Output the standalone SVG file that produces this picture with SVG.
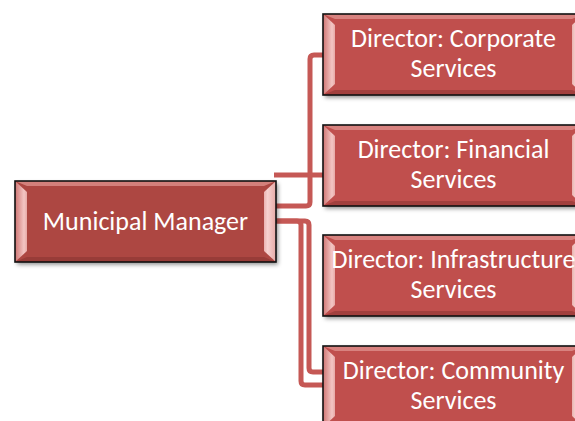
<svg xmlns="http://www.w3.org/2000/svg" xmlns:xlink="http://www.w3.org/1999/xlink" width="575" height="421" viewBox="0 0 575 421">
<style>
  .conn { fill: none; stroke: #C55855; stroke-width: 5; stroke-linejoin: round; }
  .lbl { font-family: Carlito, Lato, "Open Sans", sans-serif; font-size: 26px; fill: #ffffff; text-anchor: middle; }
  .edge { fill: none; stroke: #111111; stroke-width: 1.6; }
</style>
<defs>
  <filter id="sh" x="-10%" y="-10%" width="125%" height="130%">
    <feDropShadow dx="2" dy="2.5" stdDeviation="2" flood-color="#000" flood-opacity="0.45"/>
  </filter>
  <linearGradient id="gl" x1="0" y1="0" x2="1" y2="0">
    <stop offset="0" stop-color="#cf7573"/>
    <stop offset="0.75" stop-color="#f3c6c4"/>
    <stop offset="1" stop-color="#e7a9a6"/>
  </linearGradient>
  <linearGradient id="gr" x1="1" y1="0" x2="0" y2="0">
    <stop offset="0" stop-color="#e6a9a6"/>
    <stop offset="0.7" stop-color="#f6d2d0"/>
    <stop offset="1" stop-color="#eab2b0"/>
  </linearGradient>
  <g id="bevel">
    <polygon points="0,0 261,0 249,5 12,5" fill="#e39894" opacity="0.7"/>
    <polygon points="0,81 261,81 249,76 12,76" fill="#7e2e2c" opacity="0.45"/>
    <polygon points="0,0 12,11 12,70 0,81" fill="url(#gl)"/>
    <polygon points="261,0 249,11 249,70 261,81" fill="url(#gr)"/>
    <rect x="0" y="0" width="261" height="81" class="edge"/>
  </g>
</defs>

<g id="connectors">
  <path class="conn" d="M276,206 H306 Q310,206 310,202 V59 Q310,55 314,55 H323"/>
  <path class="conn" d="M274,175 H323"/>
  <path class="conn" d="M276,221 H305 Q309,221 309,225 V368 Q309,372 313,372 H323"/>
  <path class="conn" d="M276,221 H297 Q301,221 301,225 V381 Q301,385 305,385 H323"/>
</g>

<g id="manager">
  <g filter="url(#sh)"><rect x="15" y="181" width="261" height="81" fill="#AD4643"/></g>
  <use xlink:href="#bevel" x="15" y="181"/>
  <text class="lbl" x="145.5" y="230">Municipal Manager</text>
</g>

<g id="corporate">
  <g filter="url(#sh)"><rect x="323" y="14" width="261" height="81" fill="#C0504D"/></g>
  <use xlink:href="#bevel" x="323" y="14"/>
  <text class="lbl" x="453.5" y="47">Director: Corporate</text>
  <text class="lbl" x="453.5" y="77">Services</text>
</g>

<g id="financial">
  <g filter="url(#sh)"><rect x="323" y="125" width="261" height="81" fill="#C0504D"/></g>
  <use xlink:href="#bevel" x="323" y="125"/>
  <text class="lbl" x="453.5" y="158">Director: Financial</text>
  <text class="lbl" x="453.5" y="188">Services</text>
</g>

<g id="infrastructure">
  <g filter="url(#sh)"><rect x="323" y="235" width="261" height="81" fill="#C0504D"/></g>
  <use xlink:href="#bevel" x="323" y="235"/>
  <text class="lbl" x="453.5" y="268">Director: Infrastructure</text>
  <text class="lbl" x="453.5" y="298">Services</text>
</g>

<g id="community">
  <g filter="url(#sh)"><rect x="323" y="346" width="261" height="81" fill="#C0504D"/></g>
  <use xlink:href="#bevel" x="323" y="346"/>
  <text class="lbl" x="453.5" y="379">Director: Community</text>
  <text class="lbl" x="453.5" y="409">Services</text>
</g>
</svg>
